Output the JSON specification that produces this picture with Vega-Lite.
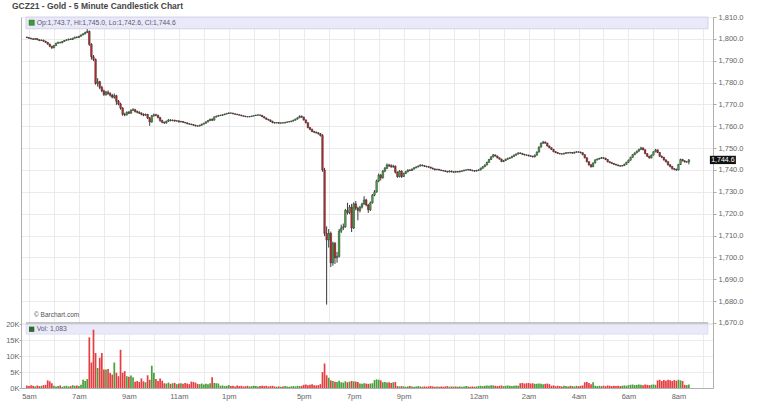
{
"$schema":"https://vega.github.io/schema/vega-lite/v6.json",
"width":692,"height":371,
"autosize":{"type":"none"},
"padding":{"left":21,"top":17,"right":52,"bottom":20},
"background":"white",
"title":{"text":"GCZ21 - Gold - 5 Minute Candlestick Chart","anchor":"start","frame":"group","dx":-9,"offset":3,"fontSize":8.5,"fontWeight":"bold","color":"#444","font":"Liberation Sans"},
"config":{"view":{"stroke":null},"axis":{"labelFont":"Liberation Sans","labelFontSize":7.5,"labelColor":"#666","domainColor":"#aaa","tickColor":"#aaa","gridColor":"#e6e6e6","gridWidth":0.8,"labelOverlap":false}},
"data":{"name":"bars"},
"datasets":{"bars":[
{"i":-1,"o":1800.8,"h":1801.0,"l":1800.3,"c":1800.6,"v":800},
{"i":0,"o":1800.6,"h":1800.8,"l":1800.0,"c":1800.3,"v":600},
{"i":1,"o":1800.3,"h":1800.5,"l":1799.8,"c":1800.0,"v":900},
{"i":2,"o":1800.0,"h":1800.2,"l":1799.5,"c":1799.8,"v":700},
{"i":3,"o":1799.8,"h":1800.4,"l":1799.6,"c":1800.1,"v":500},
{"i":4,"o":1800.1,"h":1800.3,"l":1799.4,"c":1799.6,"v":800},
{"i":5,"o":1799.6,"h":1799.8,"l":1799.0,"c":1799.2,"v":600},
{"i":6,"o":1799.2,"h":1799.7,"l":1799.0,"c":1799.4,"v":700},
{"i":7,"o":1799.4,"h":1799.6,"l":1798.7,"c":1798.9,"v":900},
{"i":8,"o":1798.9,"h":1799.1,"l":1798.1,"c":1798.4,"v":1000},
{"i":9,"o":1798.4,"h":1798.6,"l":1797.3,"c":1797.6,"v":2400},
{"i":10,"o":1797.6,"h":1797.8,"l":1796.2,"c":1796.6,"v":2100},
{"i":11,"o":1796.6,"h":1796.8,"l":1795.4,"c":1795.9,"v":1500},
{"i":12,"o":1795.9,"h":1797.2,"l":1795.7,"c":1797.0,"v":700},
{"i":13,"o":1797.0,"h":1798.2,"l":1796.8,"c":1798.0,"v":500},
{"i":14,"o":1798.0,"h":1798.7,"l":1797.8,"c":1798.4,"v":600},
{"i":15,"o":1798.4,"h":1798.6,"l":1797.9,"c":1798.2,"v":800},
{"i":16,"o":1798.2,"h":1799.0,"l":1798.0,"c":1798.8,"v":400},
{"i":17,"o":1798.8,"h":1799.5,"l":1798.6,"c":1799.3,"v":600},
{"i":18,"o":1799.3,"h":1799.8,"l":1799.1,"c":1799.5,"v":700},
{"i":19,"o":1799.5,"h":1800.1,"l":1799.3,"c":1799.9,"v":500},
{"i":20,"o":1799.9,"h":1800.2,"l":1799.5,"c":1799.7,"v":600},
{"i":21,"o":1799.7,"h":1800.5,"l":1799.5,"c":1800.3,"v":900},
{"i":22,"o":1800.3,"h":1801.0,"l":1800.1,"c":1800.8,"v":700},
{"i":23,"o":1800.8,"h":1801.1,"l":1800.3,"c":1800.6,"v":800},
{"i":24,"o":1800.6,"h":1801.4,"l":1800.4,"c":1801.2,"v":600},
{"i":25,"o":1801.2,"h":1802.0,"l":1801.0,"c":1801.8,"v":1000},
{"i":26,"o":1801.8,"h":1802.6,"l":1801.6,"c":1802.3,"v":2600},
{"i":27,"o":1802.3,"h":1803.3,"l":1802.0,"c":1802.9,"v":2200},
{"i":28,"o":1802.9,"h":1804.4,"l":1802.6,"c":1803.4,"v":2800},
{"i":29,"o":1803.4,"h":1803.8,"l":1796.8,"c":1797.5,"v":15900},
{"i":30,"o":1797.5,"h":1798.0,"l":1790.5,"c":1791.8,"v":8000},
{"i":31,"o":1791.8,"h":1792.6,"l":1789.8,"c":1790.6,"v":18300},
{"i":32,"o":1790.6,"h":1791.0,"l":1779.0,"c":1779.6,"v":11000},
{"i":33,"o":1779.6,"h":1782.0,"l":1778.2,"c":1780.4,"v":6300},
{"i":34,"o":1780.4,"h":1780.8,"l":1777.0,"c":1777.8,"v":9500},
{"i":35,"o":1777.8,"h":1778.5,"l":1775.6,"c":1776.2,"v":11000},
{"i":36,"o":1776.2,"h":1776.8,"l":1773.9,"c":1774.5,"v":5800},
{"i":37,"o":1774.5,"h":1776.2,"l":1774.0,"c":1775.6,"v":5800},
{"i":38,"o":1775.6,"h":1776.4,"l":1774.4,"c":1775.0,"v":6000},
{"i":39,"o":1775.0,"h":1775.6,"l":1773.6,"c":1774.2,"v":4700},
{"i":40,"o":1774.2,"h":1774.8,"l":1772.8,"c":1773.3,"v":4200},
{"i":41,"o":1773.3,"h":1775.0,"l":1772.6,"c":1774.0,"v":8000},
{"i":42,"o":1774.0,"h":1774.4,"l":1769.8,"c":1771.5,"v":4800},
{"i":43,"o":1771.5,"h":1772.0,"l":1769.6,"c":1770.2,"v":3700},
{"i":44,"o":1770.2,"h":1770.8,"l":1767.6,"c":1768.3,"v":12000},
{"i":45,"o":1768.3,"h":1768.8,"l":1764.8,"c":1765.5,"v":4800},
{"i":46,"o":1765.5,"h":1766.2,"l":1764.6,"c":1765.2,"v":5300},
{"i":47,"o":1765.2,"h":1766.8,"l":1764.9,"c":1766.4,"v":3700},
{"i":48,"o":1766.4,"h":1767.0,"l":1765.6,"c":1766.0,"v":3500},
{"i":49,"o":1766.0,"h":1767.8,"l":1765.7,"c":1767.3,"v":3900},
{"i":50,"o":1767.3,"h":1768.3,"l":1767.0,"c":1767.6,"v":3400},
{"i":51,"o":1767.6,"h":1768.0,"l":1766.3,"c":1766.8,"v":2000},
{"i":52,"o":1766.8,"h":1767.2,"l":1765.9,"c":1766.4,"v":2200},
{"i":53,"o":1766.4,"h":1766.9,"l":1765.6,"c":1766.0,"v":1900},
{"i":54,"o":1766.0,"h":1766.4,"l":1765.0,"c":1765.5,"v":3000},
{"i":55,"o":1765.5,"h":1765.9,"l":1764.6,"c":1765.1,"v":2100},
{"i":56,"o":1765.1,"h":1765.8,"l":1764.8,"c":1765.4,"v":1800},
{"i":57,"o":1765.4,"h":1765.7,"l":1763.3,"c":1763.8,"v":4000},
{"i":58,"o":1763.8,"h":1764.2,"l":1760.2,"c":1762.0,"v":2600},
{"i":59,"o":1762.0,"h":1765.2,"l":1761.6,"c":1764.8,"v":7000},
{"i":60,"o":1764.8,"h":1765.8,"l":1764.4,"c":1765.3,"v":4800},
{"i":61,"o":1765.3,"h":1765.7,"l":1764.6,"c":1765.0,"v":2800},
{"i":62,"o":1765.0,"h":1765.3,"l":1763.6,"c":1764.0,"v":2200},
{"i":63,"o":1764.0,"h":1764.3,"l":1762.1,"c":1762.6,"v":3000},
{"i":64,"o":1762.6,"h":1763.0,"l":1761.4,"c":1761.8,"v":2300},
{"i":65,"o":1761.8,"h":1762.2,"l":1761.1,"c":1761.5,"v":1500},
{"i":66,"o":1761.5,"h":1762.6,"l":1761.2,"c":1762.3,"v":1400},
{"i":67,"o":1762.3,"h":1763.3,"l":1762.0,"c":1762.9,"v":1700},
{"i":68,"o":1762.9,"h":1763.2,"l":1762.3,"c":1762.6,"v":1300},
{"i":69,"o":1762.6,"h":1763.1,"l":1762.3,"c":1762.8,"v":1500},
{"i":70,"o":1762.8,"h":1763.0,"l":1762.1,"c":1762.4,"v":1600},
{"i":71,"o":1762.4,"h":1762.8,"l":1762.1,"c":1762.5,"v":1200},
{"i":72,"o":1762.5,"h":1762.7,"l":1761.7,"c":1762.0,"v":1400},
{"i":73,"o":1762.0,"h":1762.5,"l":1761.8,"c":1762.2,"v":1500},
{"i":74,"o":1762.2,"h":1762.4,"l":1761.5,"c":1761.8,"v":1300},
{"i":75,"o":1761.8,"h":1762.0,"l":1761.3,"c":1761.6,"v":1600},
{"i":76,"o":1761.6,"h":1761.8,"l":1760.9,"c":1761.2,"v":1400},
{"i":77,"o":1761.2,"h":1761.4,"l":1760.7,"c":1761.0,"v":1200},
{"i":78,"o":1761.0,"h":1761.2,"l":1760.5,"c":1760.8,"v":2000},
{"i":79,"o":1760.8,"h":1761.0,"l":1760.2,"c":1760.5,"v":1900},
{"i":80,"o":1760.5,"h":1760.7,"l":1759.9,"c":1760.2,"v":1700},
{"i":81,"o":1760.2,"h":1760.4,"l":1759.8,"c":1760.1,"v":1300},
{"i":82,"o":1760.1,"h":1760.7,"l":1759.9,"c":1760.5,"v":1200},
{"i":83,"o":1760.5,"h":1761.2,"l":1760.3,"c":1761.0,"v":1400},
{"i":84,"o":1761.0,"h":1761.6,"l":1760.8,"c":1761.4,"v":1100},
{"i":85,"o":1761.4,"h":1762.3,"l":1761.2,"c":1762.0,"v":1300},
{"i":86,"o":1762.0,"h":1762.9,"l":1761.8,"c":1762.6,"v":1200},
{"i":87,"o":1762.6,"h":1763.5,"l":1762.4,"c":1763.2,"v":1500},
{"i":88,"o":1763.2,"h":1763.6,"l":1762.4,"c":1762.8,"v":3400},
{"i":89,"o":1762.8,"h":1764.5,"l":1762.6,"c":1764.3,"v":1600},
{"i":90,"o":1764.3,"h":1764.9,"l":1764.0,"c":1764.6,"v":1500},
{"i":91,"o":1764.6,"h":1765.2,"l":1764.4,"c":1764.9,"v":1400},
{"i":92,"o":1764.9,"h":1765.3,"l":1764.7,"c":1765.0,"v":700},
{"i":93,"o":1765.0,"h":1765.5,"l":1764.8,"c":1765.3,"v":800},
{"i":94,"o":1765.3,"h":1765.8,"l":1765.1,"c":1765.6,"v":600},
{"i":95,"o":1765.6,"h":1766.1,"l":1765.4,"c":1765.9,"v":700},
{"i":96,"o":1765.9,"h":1766.4,"l":1765.7,"c":1766.1,"v":900},
{"i":97,"o":1766.1,"h":1766.3,"l":1765.8,"c":1766.0,"v":600},
{"i":98,"o":1766.0,"h":1766.2,"l":1765.5,"c":1765.7,"v":700},
{"i":99,"o":1765.7,"h":1765.9,"l":1765.3,"c":1765.5,"v":500},
{"i":100,"o":1765.5,"h":1765.7,"l":1765.1,"c":1765.3,"v":800},
{"i":101,"o":1765.3,"h":1765.5,"l":1764.9,"c":1765.1,"v":600},
{"i":102,"o":1765.1,"h":1765.3,"l":1764.6,"c":1764.8,"v":700},
{"i":103,"o":1764.8,"h":1765.0,"l":1764.4,"c":1764.6,"v":500},
{"i":104,"o":1764.6,"h":1764.8,"l":1764.2,"c":1764.4,"v":600},
{"i":105,"o":1764.4,"h":1764.6,"l":1764.1,"c":1764.3,"v":700},
{"i":106,"o":1764.3,"h":1764.7,"l":1764.1,"c":1764.5,"v":500},
{"i":107,"o":1764.5,"h":1764.9,"l":1764.3,"c":1764.7,"v":600},
{"i":108,"o":1764.7,"h":1765.1,"l":1764.5,"c":1764.9,"v":700},
{"i":109,"o":1764.9,"h":1765.3,"l":1764.7,"c":1765.1,"v":600},
{"i":110,"o":1765.1,"h":1765.5,"l":1764.9,"c":1765.2,"v":500},
{"i":111,"o":1765.2,"h":1765.4,"l":1764.8,"c":1765.0,"v":600},
{"i":112,"o":1765.0,"h":1765.2,"l":1764.2,"c":1764.4,"v":700},
{"i":113,"o":1764.4,"h":1764.6,"l":1763.6,"c":1763.8,"v":600},
{"i":114,"o":1763.8,"h":1764.0,"l":1763.0,"c":1763.2,"v":700},
{"i":115,"o":1763.2,"h":1763.4,"l":1762.6,"c":1762.9,"v":500},
{"i":116,"o":1762.9,"h":1763.1,"l":1762.0,"c":1762.3,"v":600},
{"i":117,"o":1762.3,"h":1762.5,"l":1761.4,"c":1761.7,"v":700},
{"i":118,"o":1761.7,"h":1761.9,"l":1761.2,"c":1761.5,"v":500},
{"i":119,"o":1761.5,"h":1761.9,"l":1761.3,"c":1761.7,"v":400},
{"i":120,"o":1761.7,"h":1761.9,"l":1761.2,"c":1761.4,"v":500},
{"i":121,"o":1761.4,"h":1761.8,"l":1761.2,"c":1761.6,"v":400},
{"i":122,"o":1761.6,"h":1761.8,"l":1761.3,"c":1761.5,"v":500},
{"i":123,"o":1761.5,"h":1762.0,"l":1761.3,"c":1761.8,"v":600},
{"i":124,"o":1761.8,"h":1762.2,"l":1761.6,"c":1762.0,"v":500},
{"i":125,"o":1762.0,"h":1762.4,"l":1761.8,"c":1762.1,"v":400},
{"i":126,"o":1762.1,"h":1762.6,"l":1761.9,"c":1762.4,"v":500},
{"i":127,"o":1762.4,"h":1763.0,"l":1762.2,"c":1762.8,"v":600},
{"i":128,"o":1762.8,"h":1763.5,"l":1762.6,"c":1763.3,"v":500},
{"i":129,"o":1763.3,"h":1764.1,"l":1763.1,"c":1763.9,"v":700},
{"i":130,"o":1763.9,"h":1765.0,"l":1763.7,"c":1764.6,"v":600},
{"i":131,"o":1764.6,"h":1764.9,"l":1763.9,"c":1764.2,"v":700},
{"i":132,"o":1764.2,"h":1764.4,"l":1762.6,"c":1762.9,"v":1000},
{"i":133,"o":1762.9,"h":1763.1,"l":1761.3,"c":1761.6,"v":1100},
{"i":134,"o":1761.6,"h":1761.8,"l":1759.1,"c":1759.4,"v":900},
{"i":135,"o":1759.4,"h":1759.7,"l":1758.2,"c":1758.6,"v":1000},
{"i":136,"o":1758.6,"h":1758.9,"l":1757.3,"c":1757.6,"v":1200},
{"i":137,"o":1757.6,"h":1757.9,"l":1756.9,"c":1757.3,"v":900},
{"i":138,"o":1757.3,"h":1757.6,"l":1756.7,"c":1757.0,"v":800},
{"i":139,"o":1757.0,"h":1757.3,"l":1756.2,"c":1756.6,"v":900},
{"i":140,"o":1756.6,"h":1756.9,"l":1755.3,"c":1755.8,"v":1200},
{"i":141,"o":1755.8,"h":1756.4,"l":1739.2,"c":1740.0,"v":5000},
{"i":142,"o":1740.0,"h":1741.0,"l":1709.8,"c":1711.0,"v":7700},
{"i":143,"o":1711.0,"h":1714.2,"l":1678.4,"c":1708.0,"v":4000},
{"i":144,"o":1708.0,"h":1713.0,"l":1704.5,"c":1711.0,"v":3200},
{"i":145,"o":1711.0,"h":1711.8,"l":1695.6,"c":1697.5,"v":2400},
{"i":146,"o":1697.5,"h":1707.2,"l":1696.2,"c":1706.5,"v":2200},
{"i":147,"o":1706.5,"h":1707.0,"l":1697.0,"c":1699.8,"v":2000},
{"i":148,"o":1699.8,"h":1702.5,"l":1697.6,"c":1700.5,"v":1900},
{"i":149,"o":1700.5,"h":1713.0,"l":1700.0,"c":1712.0,"v":2300},
{"i":150,"o":1712.0,"h":1715.0,"l":1711.2,"c":1713.5,"v":1800},
{"i":151,"o":1713.5,"h":1715.5,"l":1712.5,"c":1714.0,"v":1700},
{"i":152,"o":1714.0,"h":1722.2,"l":1713.6,"c":1721.5,"v":2100},
{"i":153,"o":1721.5,"h":1725.0,"l":1719.6,"c":1720.5,"v":1800},
{"i":154,"o":1720.5,"h":1724.0,"l":1719.8,"c":1723.0,"v":2000},
{"i":155,"o":1723.0,"h":1724.5,"l":1711.6,"c":1713.5,"v":2200},
{"i":156,"o":1713.5,"h":1725.2,"l":1713.0,"c":1724.5,"v":2100},
{"i":157,"o":1724.5,"h":1725.8,"l":1721.6,"c":1722.5,"v":2000},
{"i":158,"o":1722.5,"h":1723.2,"l":1717.0,"c":1721.5,"v":1900},
{"i":159,"o":1721.5,"h":1723.6,"l":1720.6,"c":1723.0,"v":1400},
{"i":160,"o":1723.0,"h":1725.0,"l":1722.4,"c":1724.5,"v":1300},
{"i":161,"o":1724.5,"h":1728.0,"l":1724.0,"c":1726.3,"v":1500},
{"i":162,"o":1726.3,"h":1726.8,"l":1723.4,"c":1724.0,"v":1400},
{"i":163,"o":1724.0,"h":1724.5,"l":1720.4,"c":1721.8,"v":1300},
{"i":164,"o":1721.8,"h":1725.6,"l":1721.2,"c":1725.0,"v":1400},
{"i":165,"o":1725.0,"h":1729.0,"l":1724.6,"c":1728.5,"v":1500},
{"i":166,"o":1728.5,"h":1730.8,"l":1728.0,"c":1730.0,"v":2500},
{"i":167,"o":1730.0,"h":1735.6,"l":1729.6,"c":1735.0,"v":2700},
{"i":168,"o":1735.0,"h":1738.4,"l":1734.4,"c":1737.6,"v":2600},
{"i":169,"o":1737.6,"h":1738.2,"l":1735.2,"c":1736.5,"v":2400},
{"i":170,"o":1736.5,"h":1740.0,"l":1736.0,"c":1739.5,"v":1800},
{"i":171,"o":1739.5,"h":1741.4,"l":1739.0,"c":1740.8,"v":1900},
{"i":172,"o":1740.8,"h":1743.0,"l":1740.4,"c":1742.3,"v":1700},
{"i":173,"o":1742.3,"h":1742.8,"l":1741.4,"c":1742.0,"v":1800},
{"i":174,"o":1742.0,"h":1742.6,"l":1741.0,"c":1741.5,"v":1600},
{"i":175,"o":1741.5,"h":1742.4,"l":1741.0,"c":1741.8,"v":1800},
{"i":176,"o":1741.8,"h":1742.0,"l":1738.4,"c":1739.0,"v":1900},
{"i":177,"o":1739.0,"h":1739.4,"l":1736.4,"c":1737.0,"v":600},
{"i":178,"o":1737.0,"h":1739.9,"l":1736.6,"c":1739.5,"v":500},
{"i":179,"o":1739.5,"h":1739.8,"l":1736.4,"c":1737.0,"v":600},
{"i":180,"o":1737.0,"h":1738.8,"l":1736.8,"c":1738.4,"v":500},
{"i":181,"o":1738.4,"h":1739.6,"l":1738.1,"c":1739.2,"v":400},
{"i":182,"o":1739.2,"h":1740.3,"l":1738.9,"c":1740.0,"v":500},
{"i":183,"o":1740.0,"h":1740.3,"l":1739.5,"c":1739.8,"v":600},
{"i":184,"o":1739.8,"h":1740.7,"l":1739.6,"c":1740.4,"v":500},
{"i":185,"o":1740.4,"h":1741.3,"l":1740.2,"c":1741.0,"v":400},
{"i":186,"o":1741.0,"h":1741.7,"l":1740.8,"c":1741.4,"v":500},
{"i":187,"o":1741.4,"h":1742.1,"l":1741.2,"c":1741.8,"v":600},
{"i":188,"o":1741.8,"h":1742.6,"l":1741.6,"c":1742.3,"v":500},
{"i":189,"o":1742.3,"h":1742.5,"l":1741.7,"c":1742.0,"v":400},
{"i":190,"o":1742.0,"h":1742.2,"l":1741.4,"c":1741.7,"v":500},
{"i":191,"o":1741.7,"h":1741.9,"l":1741.2,"c":1741.5,"v":400},
{"i":192,"o":1741.5,"h":1741.7,"l":1741.0,"c":1741.3,"v":500},
{"i":193,"o":1741.3,"h":1741.5,"l":1740.6,"c":1740.9,"v":600},
{"i":194,"o":1740.9,"h":1741.1,"l":1740.2,"c":1740.5,"v":500},
{"i":195,"o":1740.5,"h":1740.7,"l":1739.8,"c":1740.1,"v":400},
{"i":196,"o":1740.1,"h":1740.6,"l":1739.9,"c":1740.3,"v":500},
{"i":197,"o":1740.3,"h":1740.5,"l":1739.7,"c":1740.0,"v":400},
{"i":198,"o":1740.0,"h":1740.2,"l":1739.5,"c":1739.8,"v":500},
{"i":199,"o":1739.8,"h":1740.0,"l":1739.3,"c":1739.6,"v":400},
{"i":200,"o":1739.6,"h":1739.8,"l":1739.1,"c":1739.4,"v":500},
{"i":201,"o":1739.4,"h":1739.6,"l":1738.8,"c":1739.1,"v":600},
{"i":202,"o":1739.1,"h":1739.8,"l":1738.9,"c":1739.5,"v":400},
{"i":203,"o":1739.5,"h":1739.7,"l":1738.9,"c":1739.2,"v":500},
{"i":204,"o":1739.2,"h":1739.4,"l":1738.7,"c":1739.0,"v":400},
{"i":205,"o":1739.0,"h":1739.6,"l":1738.8,"c":1739.3,"v":500},
{"i":206,"o":1739.3,"h":1739.5,"l":1738.8,"c":1739.1,"v":400},
{"i":207,"o":1739.1,"h":1739.7,"l":1738.9,"c":1739.4,"v":500},
{"i":208,"o":1739.4,"h":1739.9,"l":1739.2,"c":1739.6,"v":400},
{"i":209,"o":1739.6,"h":1740.2,"l":1739.4,"c":1739.9,"v":500},
{"i":210,"o":1739.9,"h":1740.3,"l":1739.7,"c":1740.0,"v":600},
{"i":211,"o":1740.0,"h":1740.5,"l":1739.8,"c":1740.2,"v":500},
{"i":212,"o":1740.2,"h":1740.4,"l":1739.6,"c":1739.9,"v":400},
{"i":213,"o":1739.9,"h":1740.1,"l":1739.4,"c":1739.7,"v":500},
{"i":214,"o":1739.7,"h":1739.9,"l":1739.2,"c":1739.5,"v":400},
{"i":215,"o":1739.5,"h":1740.1,"l":1739.3,"c":1739.8,"v":500},
{"i":216,"o":1739.8,"h":1740.3,"l":1739.6,"c":1740.0,"v":600},
{"i":217,"o":1740.0,"h":1741.1,"l":1739.8,"c":1740.8,"v":700},
{"i":218,"o":1740.8,"h":1741.8,"l":1740.6,"c":1741.5,"v":600},
{"i":219,"o":1741.5,"h":1742.6,"l":1741.3,"c":1742.3,"v":700},
{"i":220,"o":1742.3,"h":1743.8,"l":1742.1,"c":1743.5,"v":800},
{"i":221,"o":1743.5,"h":1745.1,"l":1743.3,"c":1744.8,"v":700},
{"i":222,"o":1744.8,"h":1746.3,"l":1744.6,"c":1746.0,"v":900},
{"i":223,"o":1746.0,"h":1747.3,"l":1745.7,"c":1746.9,"v":800},
{"i":224,"o":1746.9,"h":1747.1,"l":1746.1,"c":1746.4,"v":700},
{"i":225,"o":1746.4,"h":1746.6,"l":1745.3,"c":1745.6,"v":600},
{"i":226,"o":1745.6,"h":1745.8,"l":1744.7,"c":1745.0,"v":700},
{"i":227,"o":1745.0,"h":1745.2,"l":1743.6,"c":1743.9,"v":800},
{"i":228,"o":1743.9,"h":1744.6,"l":1743.6,"c":1744.3,"v":600},
{"i":229,"o":1744.3,"h":1745.2,"l":1744.1,"c":1744.9,"v":700},
{"i":230,"o":1744.9,"h":1745.6,"l":1744.7,"c":1745.3,"v":800},
{"i":231,"o":1745.3,"h":1745.9,"l":1745.1,"c":1745.6,"v":700},
{"i":232,"o":1745.6,"h":1746.5,"l":1745.4,"c":1746.2,"v":600},
{"i":233,"o":1746.2,"h":1747.1,"l":1746.0,"c":1746.8,"v":700},
{"i":234,"o":1746.8,"h":1747.6,"l":1746.6,"c":1747.3,"v":800},
{"i":235,"o":1747.3,"h":1748.1,"l":1747.1,"c":1747.8,"v":700},
{"i":236,"o":1747.8,"h":1748.1,"l":1747.3,"c":1747.6,"v":1500},
{"i":237,"o":1747.6,"h":1747.8,"l":1746.9,"c":1747.2,"v":1600},
{"i":238,"o":1747.2,"h":1747.4,"l":1746.6,"c":1746.9,"v":1400},
{"i":239,"o":1746.9,"h":1747.1,"l":1746.5,"c":1746.8,"v":1500},
{"i":240,"o":1746.8,"h":1747.0,"l":1746.2,"c":1746.5,"v":1600},
{"i":241,"o":1746.5,"h":1746.7,"l":1746.0,"c":1746.3,"v":1400},
{"i":242,"o":1746.3,"h":1746.5,"l":1745.7,"c":1746.0,"v":1500},
{"i":243,"o":1746.0,"h":1747.1,"l":1745.8,"c":1746.8,"v":1300},
{"i":244,"o":1746.8,"h":1748.5,"l":1746.6,"c":1748.2,"v":1300},
{"i":245,"o":1748.2,"h":1750.8,"l":1748.0,"c":1750.5,"v":1400},
{"i":246,"o":1750.5,"h":1752.6,"l":1750.3,"c":1752.2,"v":1300},
{"i":247,"o":1752.2,"h":1753.3,"l":1752.0,"c":1752.8,"v":1200},
{"i":248,"o":1752.8,"h":1753.1,"l":1752.0,"c":1752.3,"v":1300},
{"i":249,"o":1752.3,"h":1752.5,"l":1750.7,"c":1751.0,"v":1400},
{"i":250,"o":1751.0,"h":1751.2,"l":1749.9,"c":1750.2,"v":1200},
{"i":251,"o":1750.2,"h":1750.4,"l":1749.1,"c":1749.4,"v":700},
{"i":252,"o":1749.4,"h":1749.6,"l":1748.1,"c":1748.4,"v":800},
{"i":253,"o":1748.4,"h":1748.6,"l":1747.7,"c":1748.0,"v":600},
{"i":254,"o":1748.0,"h":1748.2,"l":1747.3,"c":1747.6,"v":700},
{"i":255,"o":1747.6,"h":1747.8,"l":1747.1,"c":1747.4,"v":600},
{"i":256,"o":1747.4,"h":1747.6,"l":1747.0,"c":1747.3,"v":500},
{"i":257,"o":1747.3,"h":1747.9,"l":1747.1,"c":1747.6,"v":700},
{"i":258,"o":1747.6,"h":1748.2,"l":1747.4,"c":1747.9,"v":600},
{"i":259,"o":1747.9,"h":1748.1,"l":1747.5,"c":1747.8,"v":500},
{"i":260,"o":1747.8,"h":1748.3,"l":1747.6,"c":1748.0,"v":700},
{"i":261,"o":1748.0,"h":1748.2,"l":1747.4,"c":1747.7,"v":600},
{"i":262,"o":1747.7,"h":1748.4,"l":1747.5,"c":1748.1,"v":500},
{"i":263,"o":1748.1,"h":1748.6,"l":1747.9,"c":1748.3,"v":700},
{"i":264,"o":1748.3,"h":1748.5,"l":1747.9,"c":1748.2,"v":600},
{"i":265,"o":1748.2,"h":1748.4,"l":1747.6,"c":1747.9,"v":700},
{"i":266,"o":1747.9,"h":1748.1,"l":1746.7,"c":1747.0,"v":800},
{"i":267,"o":1747.0,"h":1747.2,"l":1745.3,"c":1745.6,"v":1800},
{"i":268,"o":1745.6,"h":1745.8,"l":1743.5,"c":1743.8,"v":1900},
{"i":269,"o":1743.8,"h":1744.0,"l":1742.0,"c":1742.4,"v":1600},
{"i":270,"o":1742.4,"h":1742.6,"l":1741.1,"c":1741.5,"v":1200},
{"i":271,"o":1741.5,"h":1743.5,"l":1741.3,"c":1743.2,"v":1800},
{"i":272,"o":1743.2,"h":1744.9,"l":1743.0,"c":1744.6,"v":700},
{"i":273,"o":1744.6,"h":1745.3,"l":1744.4,"c":1745.0,"v":600},
{"i":274,"o":1745.0,"h":1745.6,"l":1744.8,"c":1745.3,"v":700},
{"i":275,"o":1745.3,"h":1745.9,"l":1745.1,"c":1745.6,"v":600},
{"i":276,"o":1745.6,"h":1745.8,"l":1745.1,"c":1745.4,"v":700},
{"i":277,"o":1745.4,"h":1745.6,"l":1744.5,"c":1744.8,"v":600},
{"i":278,"o":1744.8,"h":1745.0,"l":1743.5,"c":1743.8,"v":800},
{"i":279,"o":1743.8,"h":1744.0,"l":1743.1,"c":1743.4,"v":700},
{"i":280,"o":1743.4,"h":1743.6,"l":1742.7,"c":1743.0,"v":600},
{"i":281,"o":1743.0,"h":1743.2,"l":1742.3,"c":1742.6,"v":700},
{"i":282,"o":1742.6,"h":1742.8,"l":1742.0,"c":1742.3,"v":600},
{"i":283,"o":1742.3,"h":1742.5,"l":1741.7,"c":1742.0,"v":700},
{"i":284,"o":1742.0,"h":1742.2,"l":1741.5,"c":1741.8,"v":600},
{"i":285,"o":1741.8,"h":1742.3,"l":1741.6,"c":1742.0,"v":700},
{"i":286,"o":1742.0,"h":1742.9,"l":1741.8,"c":1742.6,"v":800},
{"i":287,"o":1742.6,"h":1743.8,"l":1742.4,"c":1743.5,"v":700},
{"i":288,"o":1743.5,"h":1744.8,"l":1743.3,"c":1744.5,"v":900},
{"i":289,"o":1744.5,"h":1746.1,"l":1744.3,"c":1745.8,"v":1000},
{"i":290,"o":1745.8,"h":1747.3,"l":1745.6,"c":1747.0,"v":1100},
{"i":291,"o":1747.0,"h":1748.1,"l":1746.8,"c":1747.8,"v":900},
{"i":292,"o":1747.8,"h":1748.9,"l":1747.6,"c":1748.6,"v":1000},
{"i":293,"o":1748.6,"h":1749.7,"l":1748.4,"c":1749.4,"v":1100},
{"i":294,"o":1749.4,"h":1750.6,"l":1749.2,"c":1750.1,"v":1000},
{"i":295,"o":1750.1,"h":1750.4,"l":1749.0,"c":1749.3,"v":900},
{"i":296,"o":1749.3,"h":1749.5,"l":1747.2,"c":1747.5,"v":1100},
{"i":297,"o":1747.5,"h":1747.7,"l":1746.0,"c":1746.3,"v":1000},
{"i":298,"o":1746.3,"h":1746.5,"l":1745.2,"c":1745.5,"v":900},
{"i":299,"o":1745.5,"h":1747.1,"l":1745.3,"c":1746.8,"v":1000},
{"i":300,"o":1746.8,"h":1748.6,"l":1746.6,"c":1748.3,"v":1100},
{"i":301,"o":1748.3,"h":1749.6,"l":1748.1,"c":1749.2,"v":1000},
{"i":302,"o":1749.2,"h":1749.4,"l":1747.7,"c":1748.0,"v":2400},
{"i":303,"o":1748.0,"h":1748.2,"l":1746.0,"c":1746.3,"v":2600},
{"i":304,"o":1746.3,"h":1746.6,"l":1745.4,"c":1745.8,"v":2200},
{"i":305,"o":1745.8,"h":1746.0,"l":1744.3,"c":1744.6,"v":2500},
{"i":306,"o":1744.6,"h":1744.9,"l":1743.4,"c":1743.8,"v":2300},
{"i":307,"o":1743.8,"h":1744.0,"l":1742.0,"c":1742.4,"v":2600},
{"i":308,"o":1742.4,"h":1742.7,"l":1741.2,"c":1741.6,"v":2400},
{"i":309,"o":1741.6,"h":1741.9,"l":1740.2,"c":1740.6,"v":2200},
{"i":310,"o":1740.6,"h":1740.9,"l":1739.9,"c":1740.3,"v":2500},
{"i":311,"o":1740.3,"h":1740.6,"l":1739.6,"c":1740.0,"v":2300},
{"i":312,"o":1740.0,"h":1742.8,"l":1739.8,"c":1742.5,"v":2600},
{"i":313,"o":1742.5,"h":1745.2,"l":1742.3,"c":1744.8,"v":2400},
{"i":314,"o":1744.8,"h":1745.1,"l":1743.9,"c":1744.2,"v":2200},
{"i":315,"o":1744.2,"h":1744.5,"l":1743.4,"c":1743.7,"v":1000},
{"i":316,"o":1743.7,"h":1744.1,"l":1743.3,"c":1743.7,"v":900},
{"i":317,"o":1743.7,"h":1745.0,"l":1742.6,"c":1744.6,"v":1083}
]},
"layer":[
{"layer":[
{"data":{"values":[{}]},"mark":{"type":"rect","fill":"#e9e9f9","stroke":"#c9c9e2","strokeWidth":0.8},
 "encoding":{"x":{"datum":-1.42,"type":"quantitative"},"x2":{"datum":326.2},"y":{"datum":1810,"type":"quantitative"},"y2":{"datum":1804.6}}},
{"data":{"values":[{}]},"mark":{"type":"rule","color":"#c4c4c4","strokeWidth":2},
 "encoding":{"x":{"datum":-1.42,"type":"quantitative"},"x2":{"datum":326.2},"y":{"datum":1670,"type":"quantitative"}}},
{"mark":{"type":"rule","strokeWidth":1,"color":"#3a3a3a"},
 "encoding":{
  "x":{"field":"i","type":"quantitative","scale":{"domain":[-1.42,326.2],"nice":false,"zero":false},
   "axis":{"title":null,"values":[0,12,24,36,48,60,72,84,96,108,120,132,144,156,168,180,192,204,216,228,240,252,264,276,288,300,312,324],"tickCount":200,
    "labelExpr":"({'0':'5am','24':'7am','48':'9am','72':'11am','96':'1pm','132':'5pm','156':'7pm','180':'9pm','216':'12am','240':'2am','264':'4am','288':'6am','312':'8am'})[datum.value] || ''",
    "grid":true,"ticks":false,"labelPadding":4,"labelFontSize":7.5,"labelOverlap":false,"domainColor":"#b0b0b0"}},
  "y":{"field":"l","type":"quantitative","scale":{"domain":[1640.26,1810],"nice":false,"zero":false},
   "axis":{"title":null,"orient":"right","values":[1670,1680,1690,1700,1710,1720,1730,1740,1750,1760,1770,1780,1790,1800,1810],"tickCount":200,"format":",.1f","grid":true,"tickSize":3,"labelPadding":2,"labelOverlap":false,"domainColor":"#b0b0b0"}},
  "y2":{"field":"h"}}},
{"mark":{"type":"bar","width":1.7,"stroke":"#2a2a2a","strokeWidth":0.4},
 "encoding":{
  "x":{"field":"i","type":"quantitative"},
  "y":{"field":"o","type":"quantitative"},
  "y2":{"field":"c"},
  "fill":{"condition":{"test":"datum.c >= datum.o","value":"#45a845"},"value":"#c0282d"}}},
{"data":{"values":[{}]},"mark":{"type":"point","shape":"square","filled":true,"size":28,"color":"#3d9b3d","stroke":"#2a6e2a","strokeWidth":0.5,"opacity":1},
 "encoding":{"x":{"datum":1.3,"type":"quantitative"},"y":{"datum":1807.4,"type":"quantitative"}}},
{"data":{"values":[{}]},"mark":{"type":"text","text":"Op:1,743.7, Hi:1,745.0, Lo:1,742.6, Cl:1,744.6","align":"left","baseline":"middle","fontSize":6.8,"font":"Liberation Sans","color":"#5a5a70"},
 "encoding":{"x":{"datum":3.7,"type":"quantitative"},"y":{"datum":1807.3,"type":"quantitative"}}},
{"data":{"values":[{}]},"mark":{"type":"text","text":"© Barchart.com","align":"left","baseline":"middle","fontSize":6.5,"font":"Liberation Sans","color":"#555"},
 "encoding":{"x":{"datum":2.4,"type":"quantitative"},"y":{"datum":1673.6,"type":"quantitative"}}},
{"data":{"values":[{}]},"mark":{"type":"rect","fill":"#111"},
 "encoding":{"x":{"datum":327.1,"type":"quantitative"},"x2":{"datum":339.6},"y":{"datum":1746.5,"type":"quantitative"},"y2":{"datum":1742.7}}},
{"data":{"values":[{}]},"mark":{"type":"text","text":"1,744.6","align":"center","baseline":"middle","fontSize":7,"font":"Liberation Sans","color":"white"},
 "encoding":{"x":{"datum":333.35,"type":"quantitative"},"y":{"datum":1744.6,"type":"quantitative"}}}
]},
{"layer":[
{"data":{"values":[{}]},"mark":{"type":"rect","fill":"#e9e9f9","stroke":"#d4d4ea","strokeWidth":0.6},
 "encoding":{"x":{"datum":-1.42,"type":"quantitative"},"x2":{"datum":326.2},"y":{"datum":20000,"type":"quantitative"},"y2":{"datum":16900}}},
{"mark":{"type":"bar","width":1.7},
 "encoding":{
  "x":{"field":"i","type":"quantitative"},
  "y":{"field":"v","type":"quantitative","scale":{"domain":[0,116500],"nice":false,"zero":true},
   "axis":{"title":null,"orient":"left","values":[0,5000,10000,15000,20000],"tickCount":200,"labelExpr":"(datum.value/1000) + 'K'","grid":true,"tickSize":2,"labelPadding":0,"labelOverlap":false,"domainColor":"#b0b0b0"}},
  "color":{"condition":{"test":"datum.c >= datum.o","value":"#4a9e3c"},"value":"#e53e42"}}},
{"data":{"values":[{}]},"mark":{"type":"point","shape":"square","filled":true,"size":28,"color":"#2f6b2f","opacity":1},
 "encoding":{"x":{"datum":1.3,"type":"quantitative"},"y":{"datum":18450,"type":"quantitative"}}},
{"data":{"values":[{}]},"mark":{"type":"text","text":"Vol: 1,083","align":"left","baseline":"middle","fontSize":6.8,"font":"Liberation Sans","color":"#5a5a70"},
 "encoding":{"x":{"datum":3.7,"type":"quantitative"},"y":{"datum":18450,"type":"quantitative"}}}
]}
],
"resolve":{"scale":{"y":"independent"},"axis":{"y":"independent"}}
}
